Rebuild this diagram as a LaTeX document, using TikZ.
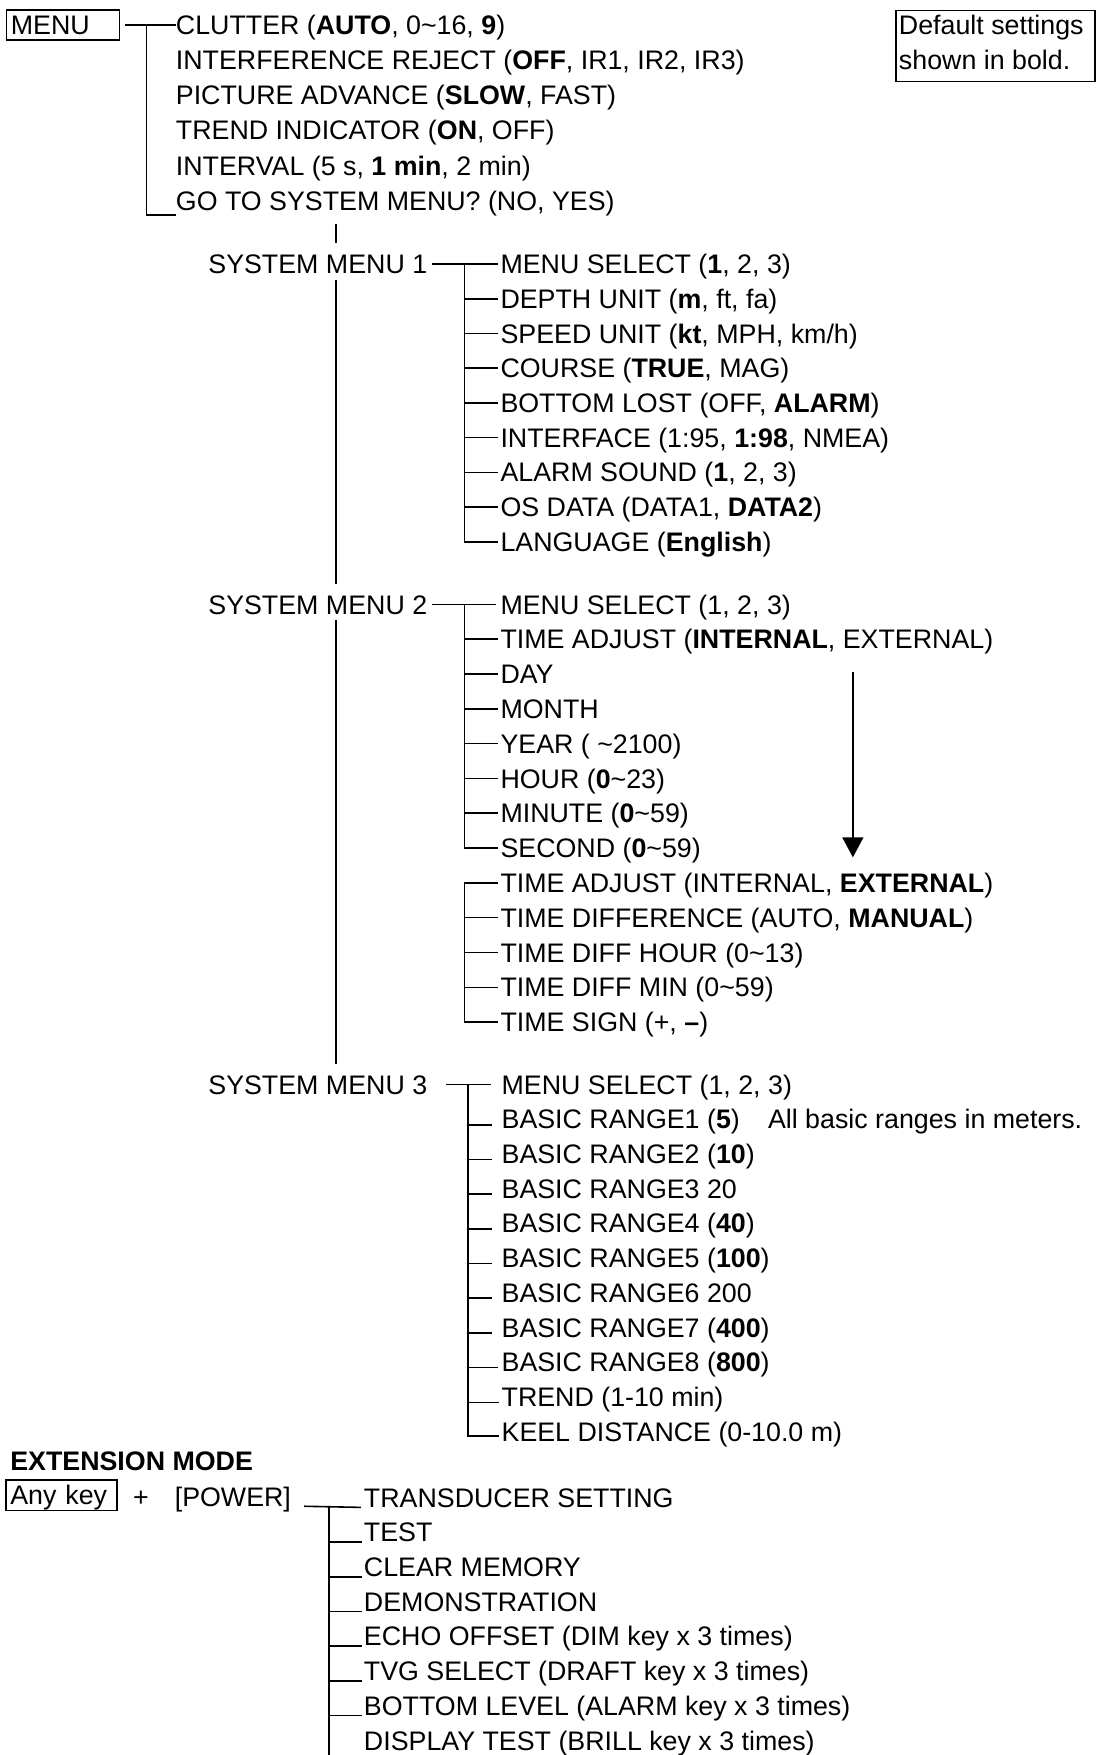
\documentclass[tikz,border=0pt]{standalone}
\usepackage{fontspec}
\setmainfont{Liberation Sans}
\usetikzlibrary{arrows.meta}
\newcommand{\fsz}{\fontsize{26.8}{32}\selectfont}
\newcommand{\tld}{\textasciitilde}
\begin{document}
\begin{tikzpicture}[x=1.1195pt,y=-1.1195pt,
  every node/.style={font=\fsz, inner sep=0pt, text height=19.2pt, text depth=0pt},
  item/.style={anchor=west},
  conn/.style={line width=1.6pt},
  keybox/.style={draw, line width=1.6pt, anchor=west, inner xsep=4.5pt, align=left, minimum height=30.2pt}]
\useasboundingbox (0,0) rectangle (979,1568);

% ---------------- main menu
\node[keybox, text width=104pt] (menu) at (5,22.3) {MENU};
\node[item] (m1) at (157,22.3) {CLUTTER (\textbf{AUTO}, 0\tld16, \textbf{9})};
\node[item] (m2) at (157,53.7) {INTERFERENCE REJECT (\textbf{OFF}, IR1, IR2, IR3)};
\node[item] (m3) at (157,85.1) {PICTURE ADVANCE (\textbf{SLOW}, FAST)};
\node[item] (m4) at (157,116.5) {TREND INDICATOR (\textbf{ON}, OFF)};
\node[item] (m5) at (157,147.9) {INTERVAL (5 s, \textbf{1 min}, 2 min)};
\node[item] (m6) at (157,179.3) {GO TO SYSTEM MENU? (NO, YES)};
\coordinate (mt) at (131,22.3);
\coordinate (mbt) at (131,192);
\draw[conn] ([xshift=5pt]menu.east) -- (m1.west);
\draw[conn] (mt) -- (mbt) -- (mbt -| m6.west);

% default box
\node[draw, line width=1.4pt, anchor=north west, minimum width=199pt, minimum height=70.5pt, text height=0pt] (defbox) at (800,9) {};
\node[item] (d1) at (803,22.3) {Default settings};
\node[item] (d2) at (803,53.7) {shown in bold.};

% ---------------- system menus
\node[item] (sm1) at (186,236) {SYSTEM MENU 1};
\node[item] (sm2) at (186,540) {SYSTEM MENU 2};
\node[item] (sm3) at (186,969) {SYSTEM MENU 3};
\coordinate (v0) at (300,200);
\draw[conn] (v0) -- ([yshift=10.9pt]sm1.north -| v0);
\draw[conn] ([yshift=-5.8pt]sm1.south -| v0) -- ([yshift=10.9pt]sm2.north -| v0);
\draw[conn] ([yshift=-5.8pt]sm2.south -| v0) -- ([yshift=10.9pt]sm3.north -| v0);

% system menu 1
\foreach \t [count=\i from 0] in {
  {MENU SELECT (\textbf{1}, 2, 3)},
  {DEPTH UNIT (\textbf{m}, ft, fa)},
  {SPEED UNIT (\textbf{kt}, MPH, km/h)},
  {COURSE (\textbf{TRUE}, MAG)},
  {BOTTOM LOST (OFF, \textbf{ALARM})},
  {INTERFACE (1:95, \textbf{1:98}, NMEA)},
  {ALARM SOUND (\textbf{1}, 2, 3)},
  {OS DATA (DATA1, \textbf{DATA2})},
  {LANGUAGE (\textbf{English})}}
  \node[item] (sa\i) at (447,236+31*\i) {\t};
\coordinate (b1t) at (415,236);
\draw[conn] ([xshift=4.5pt]sm1.east) -- ([xshift=-2.5pt]sa0.west);
\draw[conn] (b1t) -- (b1t |- sa8.west) -- ([xshift=-2.5pt]sa8.west);
\foreach \i in {1,...,7}
  \draw[conn] (b1t |- sa\i.west) -- ([xshift=-2.5pt]sa\i.west);

% system menu 2
\foreach \t [count=\i from 0] in {
  {MENU SELECT (1, 2, 3)},
  {TIME ADJUST (\textbf{INTERNAL}, EXTERNAL)},
  {DAY},
  {MONTH},
  {YEAR ( \tld2100)},
  {HOUR (\textbf{0}\tld23)},
  {MINUTE (\textbf{0}\tld59)},
  {SECOND (\textbf{0}\tld59)},
  {TIME ADJUST (INTERNAL, \textbf{EXTERNAL})},
  {TIME DIFFERENCE (AUTO, \textbf{MANUAL})},
  {TIME DIFF HOUR (0\tld13)},
  {TIME DIFF MIN (0\tld59)},
  {TIME SIGN (+, \textbf{--})}}
  \node[item] (sb\i) at (447,540+31.1*\i) {\t};
\coordinate (b2t) at (415,540);
\draw[conn] ([xshift=4.5pt]sm2.east) -- ([xshift=-4pt]sb0.west);
\draw[conn] (b2t) -- (b2t |- sb7.west) -- ([xshift=-2.5pt]sb7.west);
\foreach \i in {1,...,6}
  \draw[conn] (b2t |- sb\i.west) -- ([xshift=-2.5pt]sb\i.west);
\draw[conn] ([xshift=-2.5pt]sb8.west) -- (b2t |- sb8.west) -- (b2t |- sb12.west) -- ([xshift=-2.5pt]sb12.west);
\foreach \i in {9,10,11}
  \draw[conn] (b2t |- sb\i.west) -- ([xshift=-2.5pt]sb\i.west);
\coordinate (at) at (762,600);
\coordinate (ab) at (762,766);
\draw[line width=1.3pt, -{Triangle[length=20pt,width=21pt]}] (at) -- (ab);

% system menu 3
\foreach \t [count=\i from 0] in {
  {MENU SELECT (1, 2, 3)},
  {BASIC RANGE1 (\textbf{5})},
  {BASIC RANGE2 (\textbf{10})},
  {BASIC RANGE3 20},
  {BASIC RANGE4 (\textbf{40})},
  {BASIC RANGE5 (\textbf{100})},
  {BASIC RANGE6 200},
  {BASIC RANGE7 (\textbf{400})},
  {BASIC RANGE8 (\textbf{800})},
  {TREND (1-10 min)},
  {KEEL DISTANCE (0-10.0 m)}}
  \node[item] (sc\i) at (448,969+31*\i) {\t};
\node[item] (note) at (686,1000) {All basic ranges in meters.};
\coordinate (b3t) at (418,969);
\draw[conn] ([xshift=19pt]sm3.east) -- ([xshift=-10pt]sc0.west);
\draw[conn] (b3t) -- ([yshift=-4.5pt]b3t |- sc10.west) -- ([xshift=-2pt,yshift=-4.5pt]sc10.west);
\foreach \i/\g in {1/9,2/9,3/9,4/9,5/9,6/9,7/9,8/3,9/2}
  \draw[conn] ([yshift=-5.5pt]b3t |- sc\i.west) -- ([xshift=-\g pt,yshift=-5.5pt]sc\i.west);

% ---------------- extension mode
\node[item, font=\fsz\bfseries] (ext) at (9,1305) {EXTENSION MODE};
\node[keybox, text width=102.4pt] (anyk) at (4.5,1336) {Any key};
\node (plus) at (126,1337) {+};
\node[item] (power) at (156,1337) {[POWER]};
\foreach \t [count=\i from 0] in {
  {TRANSDUCER SETTING},
  {TEST},
  {CLEAR MEMORY},
  {DEMONSTRATION},
  {ECHO OFFSET (DIM key x 3 times)},
  {TVG SELECT (DRAFT key x 3 times)},
  {BOTTOM LEVEL (ALARM key x 3 times)},
  {DISPLAY TEST (BRILL key x 3 times)}}
  \node[item] (se\i) at (325,1338+31*\i) {\t};
\coordinate (b4t) at (294,1345.5);
\coordinate (b4b) at (294,1568);
\draw[conn] ([xshift=13pt]power.south east) -- ([xshift=-3pt]se0.south west);
\draw[conn] (b4t) -- (b4b);
\foreach \i in {1,...,6}
  \draw[conn] (b4t |- se\i.south west) -- ([xshift=-2pt]se\i.south west);
\end{tikzpicture}
\end{document}
